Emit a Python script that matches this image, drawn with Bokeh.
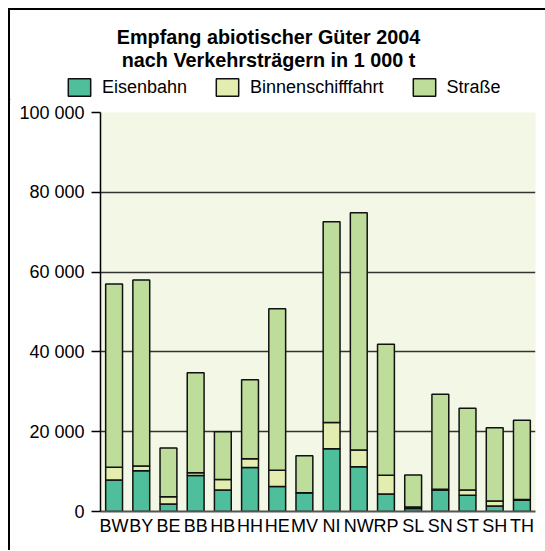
from bokeh.plotting import figure
from bokeh.layouts import column
from bokeh.models import (FactorRange, Range1d, FixedTicker, Legend, LegendItem, Label)
from bokeh.embed import file_html
from bokeh.resources import INLINE

# ---- data ----
states = ["BW", "BY", "BE", "BB", "HB", "HH", "HE", "MV",
          "NI", "NW", "RP", "SL", "SN", "ST", "SH", "TH"]
eisenbahn = [7900, 10200, 1900, 9000, 5400, 11000, 6250, 4700,
             15750, 11200, 4400, 750, 5400, 4100, 1400, 2850]
binnenschifffahrt = [3200, 1200, 1800, 700, 2600, 2250, 4100, 0,
                     6550, 4200, 4700, 400, 200, 1300, 1250, 150]
strasse = [45900, 46600, 12200, 25100, 12000, 19750, 40450, 9300,
           50300, 59500, 32800, 8000, 23800, 20500, 18350, 19900]
series_names = ["Eisenbahn", "Binnenschifffahrt", "Straße"]
y_ticks = [0, 20000, 40000, 60000, 80000, 100000]
y_tick_labels = ["0", "20 000", "40 000", "60 000", "80 000", "100 000"]
title_lines = ["Empfang abiotischer Güter 2004", "nach Verkehrsträgern in 1 000 t"]

colors = ["#4fbf9b", "#e3edb0", "#bedd9a"]
FONT = "Liberation Sans"
W = 535

source = dict(states=states, Eisenbahn=eisenbahn,
              Binnenschifffahrt=binnenschifffahrt)
source["Straße"] = strasse

# ---------- header: title + legend ----------
HH_ = 90
head = figure(width=W, height=HH_, x_range=Range1d(0, W), y_range=Range1d(0, HH_),
              min_border=0, toolbar_location=None, output_backend="svg",
              x_axis_location=None, y_axis_location=None)
head.frame_align = False
head.grid.visible = False
head.outline_line_color = None
head.background_fill_color = "white"
head.border_fill_color = "white"

for line, yy in zip(title_lines, [64, 41]):
    head.add_layout(Label(x=258, y=yy, text=line, text_align="center",
                          text_baseline="middle", text_font=FONT,
                          text_font_size="19.8px", text_font_style="bold",
                          text_color="black"))

# legend swatches (one placeholder bar each, outside the visible header range)
dummy = []
for c in colors:
    dummy.append(head.vbar(x=[-50], top=[-50], bottom=[-60], width=1, fill_color=c,
                           line_color="#111111", line_width=1.5))

legend = Legend(items=[LegendItem(label=n, renderers=[r]) for n, r in zip(series_names, dummy)],
                orientation="horizontal", location=(55, 2),
                glyph_width=28, glyph_height=22, label_height=22,
                label_standoff=9, spacing=26,
                padding=0, margin=0, border_line_color=None,
                background_fill_alpha=0,
                label_text_font=FONT, label_text_font_size="18px",
                label_text_color="black")
head.add_layout(legend)

# ---------- main chart ----------
p = figure(x_range=FactorRange(*states, range_padding=0),
           y_range=Range1d(0, 100000),
           width=W, height=450, output_backend="svg",
           toolbar_location=None, title=None,
           min_border_left=90, min_border_right=10,
           min_border_top=12, min_border_bottom=39)
p.frame_align = False

p.vbar_stack(series_names, x="states", width=0.62, source=source,
             fill_color=colors, line_color="#111111", line_width=1.5)

p.background_fill_color = "#f3f7e6"
p.border_fill_color = "white"
p.outline_line_color = None

p.xgrid.grid_line_color = None
p.ygrid.grid_line_color = "#333333"
p.ygrid.grid_line_width = 1.5
p.ygrid.ticker = FixedTicker(ticks=y_ticks)

p.yaxis.ticker = FixedTicker(ticks=y_ticks)
p.yaxis.major_label_overrides = {t: l for t, l in zip(y_ticks, y_tick_labels)}
p.yaxis.major_label_text_font = FONT
p.yaxis.major_label_text_font_size = "18px"
p.yaxis.major_label_text_color = "black"
p.yaxis.major_tick_out = 9
p.yaxis.major_tick_in = 0
p.yaxis.minor_tick_out = 0
p.yaxis.minor_tick_in = 0
p.yaxis.major_tick_line_color = "black"
p.yaxis.major_tick_line_width = 1.5
p.yaxis.axis_line_color = "black"
p.yaxis.axis_line_width = 1.5
p.yaxis.major_label_standoff = 7

p.xaxis.major_label_text_font = FONT
p.xaxis.major_label_text_font_size = "18px"
p.xaxis.major_label_text_color = "black"
p.xaxis.major_tick_line_color = None
p.xaxis.major_tick_out = 0
p.xaxis.major_tick_in = 0
p.xaxis.axis_line_color = "#555555"
p.xaxis.axis_line_width = 2
p.xaxis.major_label_standoff = 4

layout = column(head, p, spacing=0,
                styles={"margin-left": "8px", "margin-top": "8px",
                        "border-left": "2px solid black",
                        "border-top": "2px solid black"})

open("out.html", "w").write(file_html(layout, INLINE))
